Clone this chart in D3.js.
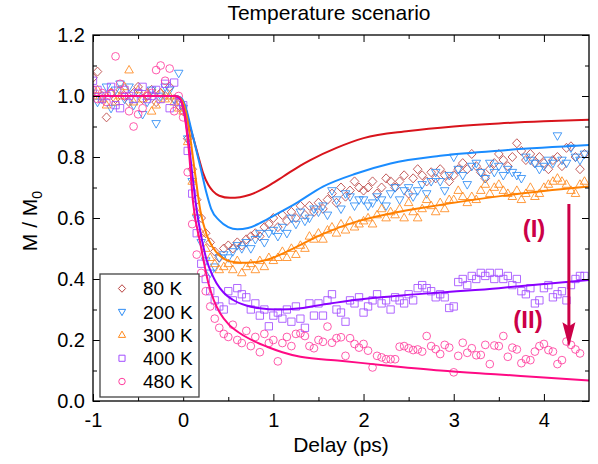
<!DOCTYPE html>
<html>
<head>
<meta charset="utf-8">
<script src="https://cdn.jsdelivr.net/npm/d3@7"></script>
<style>
body { margin: 0; background: #fff; }
svg { display: block; font-family: "Liberation Sans", Arial, sans-serif; }
</style>
</head>
<body>
<div class="chart"></div>
<script>

// delay grid (ps), shared by all temperatures
const delays = [
 -1.00,-0.95,-0.90,-0.85,-0.80,-0.75,-0.70,-0.65,-0.60,-0.55,
 -0.50,-0.45,-0.40,-0.35,-0.30,-0.25,-0.20,-0.15,-0.10,-0.05,
  0.00, 0.05, 0.10, 0.15, 0.20, 0.25, 0.30, 0.35, 0.40, 0.45,
  0.50, 0.55, 0.60, 0.65, 0.70, 0.75, 0.80, 0.85, 0.90, 0.95,
  1.00, 1.05, 1.10, 1.15, 1.20, 1.25, 1.30, 1.35, 1.40, 1.45,
  1.50, 1.55, 1.60, 1.65, 1.70, 1.75, 1.80, 1.85, 1.90, 1.95,
  2.00, 2.05, 2.10, 2.15, 2.20, 2.25, 2.30, 2.35, 2.40, 2.45,
  2.50, 2.55, 2.60, 2.65, 2.70, 2.75, 2.80, 2.85, 2.90, 2.95,
  3.00, 3.05, 3.10, 3.15, 3.20, 3.25, 3.30, 3.35, 3.40, 3.45,
  3.50, 3.55, 3.60, 3.65, 3.70, 3.75, 3.80, 3.85, 3.90, 3.95,
  4.00, 4.05, 4.10, 4.15, 4.20, 4.25, 4.30, 4.35, 4.40, 4.45
];

// measured M/M0
const m80 = [
 1.06,1.08,1.00,0.93,1.01,0.99,1.02,1.00,0.98,1.01,
 1.03,0.99,1.00,1.02,0.98,1.01,1.00,1.03,0.99,0.97,
 0.95,0.86,0.76,0.66,0.60,0.55,0.52,0.49,0.47,0.50,
 0.51,0.50,0.52,0.51,0.53,0.54,0.55,0.54,0.57,0.58,
 0.60,0.57,0.61,0.59,0.62,0.60,0.64,0.61,0.64,0.62,
 0.65,0.63,0.66,0.68,0.65,0.70,0.67,0.69,0.72,0.70,
 0.69,0.70,0.72,0.68,0.70,0.73,0.72,0.70,0.72,0.74,
 0.68,0.73,0.76,0.74,0.72,0.75,0.73,0.76,0.74,0.72,
 0.74,0.76,0.78,0.76,0.81,0.77,0.75,0.73,0.76,0.78,
 0.81,0.79,0.77,0.80,0.845,0.82,0.79,0.81,0.78,0.80,
 0.78,0.76,0.79,0.80,0.77,0.83,0.835,0.80,0.76,0.81
];
const m200 = [
 1.01,0.98,0.99,1.03,0.96,1.02,1.04,0.99,1.03,0.97,
 1.01,0.94,0.98,1.02,0.91,1.00,1.03,1.02,0.99,1.075,
 0.96,0.86,0.72,0.60,0.52,0.46,0.42,0.44,0.47,0.48,
 0.47,0.49,0.51,0.50,0.52,0.50,0.53,0.55,0.52,0.55,
 0.56,0.54,0.57,0.55,0.60,0.58,0.62,0.59,0.60,0.63,
 0.62,0.64,0.61,0.69,0.66,0.63,0.68,0.67,0.64,0.66,
 0.66,0.64,0.65,0.67,0.66,0.64,0.68,0.70,0.66,0.69,
 0.70,0.67,0.69,0.71,0.68,0.72,0.75,0.72,0.69,0.74,
 0.80,0.76,0.74,0.71,0.77,0.78,0.75,0.73,0.78,0.75,
 0.77,0.74,0.76,0.75,0.74,0.73,0.80,0.79,0.78,0.76,
 0.77,0.79,0.78,0.87,0.79,0.78,0.83,0.80,0.79,0.81
];
const m300 = [
 1.00,1.02,0.99,0.97,1.01,0.98,1.00,1.03,1.085,0.98,
 1.02,0.99,1.01,0.95,0.97,1.01,0.99,1.00,0.98,0.96,
 0.95,0.85,0.72,0.62,0.55,0.50,0.47,0.45,0.43,0.44,
 0.45,0.43,0.46,0.42,0.44,0.45,0.43,0.46,0.44,0.47,
 0.46,0.47,0.49,0.47,0.50,0.48,0.51,0.50,0.54,0.53,
 0.55,0.53,0.56,0.57,0.55,0.58,0.56,0.59,0.57,0.58,
 0.59,0.60,0.58,0.61,0.63,0.60,0.62,0.61,0.63,0.60,
 0.65,0.62,0.60,0.63,0.66,0.64,0.62,0.65,0.63,0.66,
 0.66,0.69,0.67,0.65,0.67,0.66,0.69,0.71,0.68,0.70,
 0.71,0.69,0.68,0.67,0.69,0.66,0.68,0.70,0.67,0.68,
 0.70,0.71,0.72,0.73,0.72,0.71,0.69,0.68,0.71,0.72
];
const m400 = [
 1.05,1.02,0.99,1.00,1.03,0.97,0.96,1.02,1.00,0.99,
 1.01,1.03,0.99,1.00,1.02,0.99,1.04,0.96,1.044,0.98,
 0.97,0.82,0.68,0.55,0.45,0.40,0.36,0.33,0.31,0.30,
 0.36,0.33,0.37,0.35,0.34,0.30,0.32,0.28,0.30,0.245,
 0.28,0.29,0.27,0.30,0.26,0.31,0.27,0.24,0.32,0.28,
 0.32,0.28,0.33,0.35,0.30,0.29,0.26,0.33,0.32,0.34,
 0.29,0.31,0.33,0.35,0.32,0.33,0.30,0.34,0.33,0.32,
 0.35,0.33,0.37,0.38,0.37,0.36,0.34,0.35,0.34,0.305,
 0.31,0.39,0.40,0.38,0.41,0.40,0.42,0.41,0.42,0.40,
 0.42,0.40,0.41,0.38,0.40,0.36,0.35,0.37,0.32,0.33,
 0.37,0.38,0.34,0.35,0.36,0.33,0.38,0.40,0.41,0.41
];
const m480 = [
 1.02,0.99,1.01,0.98,1.01,1.13,1.04,1.00,0.95,0.90,
 0.94,0.96,1.00,1.01,1.085,1.10,1.05,1.09,0.95,1.00,
 0.93,0.75,0.58,0.48,0.42,0.36,0.31,0.27,0.24,0.22,
 0.21,0.25,0.20,0.19,0.23,0.18,0.21,0.16,0.22,0.19,
 0.20,0.13,0.19,0.21,0.18,0.22,0.222,0.213,0.18,0.173,
 0.20,0.194,0.244,0.191,0.206,0.209,0.148,0.206,0.187,0.175,
 0.187,0.165,0.11,0.148,0.143,0.137,0.137,0.137,0.178,0.18,
 0.173,0.167,0.169,0.162,0.213,0.18,0.17,0.154,0.184,0.175,
 0.094,0.148,0.191,0.158,0.173,0.15,0.151,0.184,0.121,0.182,
 0.18,0.213,0.145,0.175,0.169,0.124,0.137,0.134,0.162,0.18,
 0.187,0.167,0.162,0.121,0.134,0.195,0.184,0.169,0.156,null
];

// model curves [delay, M/M0]
const fit80 = [[-1,1],[-0.1,1],[-0.05,0.998],[0,0.978],[0.04,0.943],[0.075,0.9],[0.11,0.865],[0.17,0.8],[0.22,0.748],[0.28,0.708],[0.33,0.688],[0.4,0.673],[0.52,0.666],[0.63,0.668],[0.74,0.676],[0.93,0.703],[1.11,0.736],[1.3,0.772],[1.41,0.79],[1.7,0.83],[2,0.862],[2.5,0.885],[3,0.9],[3.5,0.91],[4,0.917],[4.5,0.922]];
const fit200 = [[-1,1],[-0.1,1],[-0.03,0.995],[0.02,0.97],[0.09,0.89],[0.19,0.768],[0.26,0.68],[0.31,0.63],[0.4,0.592],[0.5,0.57],[0.6,0.563],[0.72,0.567],[0.85,0.583],[1,0.607],[1.25,0.648],[1.55,0.703],[1.92,0.746],[2.3,0.779],[2.85,0.804],[3.6,0.823],[4.5,0.839]];
const fit300 = [[-1,1],[-0.1,1],[-0.04,0.995],[0.02,0.96],[0.08,0.86],[0.13,0.75],[0.19,0.625],[0.26,0.545],[0.33,0.503],[0.4,0.478],[0.48,0.462],[0.58,0.455],[0.7,0.453],[0.82,0.456],[0.93,0.463],[1.2,0.497],[1.55,0.548],[1.92,0.588],[2.3,0.615],[2.85,0.643],[3.6,0.675],[4.5,0.703]];
const fit400 = [[-1,1],[-0.1,1],[-0.05,0.995],[0.01,0.95],[0.06,0.85],[0.11,0.72],[0.15,0.626],[0.2,0.54],[0.26,0.462],[0.32,0.415],[0.37,0.386],[0.45,0.355],[0.55,0.332],[0.7,0.313],[0.85,0.304],[1.05,0.3],[1.3,0.304],[1.55,0.316],[1.92,0.332],[2.3,0.343],[2.85,0.356],[3.5,0.37],[4,0.384],[4.5,0.397]];
const fit480 = [[-1,1],[-0.1,1],[-0.05,0.997],[0,0.96],[0.06,0.83],[0.11,0.65],[0.19,0.517],[0.28,0.386],[0.34,0.33],[0.41,0.288],[0.5,0.253],[0.63,0.222],[0.78,0.197],[0.93,0.178],[1.1,0.16],[1.3,0.145],[1.74,0.132],[2.3,0.115],[2.85,0.1],[3.5,0.087],[4,0.077],[4.5,0.067]];

const labels = ["80 K", "200 K", "300 K", "400 K", "480 K"];
const xTicks = [-1, 0, 1, 2, 3, 4];
const xMinor = [-0.5, 0.5, 1.5, 2.5, 3.5];
const yTicks = [0, 0.2, 0.4, 0.6, 0.8, 1.0, 1.2];
const yMinor = [0.1, 0.3, 0.5, 0.7, 0.9, 1.1];

const shapes = ["diamond", "down", "up", "square", "circle"];
const markerColors = ["#b8413f", "#2d8cf5", "#ff8a1e", "#a24dff", "#ff3d9e"];
const lineColors = ["#d8141c", "#1a8cff", "#ff8000", "#8a00ff", "#ff0a84"];

let width = 598,
    height = 464;
let pLeft = 93, pRight = 589, pTop = 35, pBottom = 401;
let font = '"Liberation Sans", Arial, sans-serif';

let x = d3.scaleLinear().domain([-1, 4.5]).range([pLeft, pRight]);
let y = d3.scaleLinear().domain([0, 1.2]).range([pBottom, pTop]);

let series = labels.map((label, i) => ({
    label: label,
    values: [m80, m200, m300, m400, m480][i],
    fit: [fit80, fit200, fit300, fit400, fit480][i],
    shape: shapes[i],
    mc: markerColors[i],
    lc: lineColors[i]
}));

function markerPath(shape, s) {
    let h = s * 1.75;
    if (shape === "diamond") return `M0,${-s*1.05}L${s},0L0,${s*1.05}L${-s},0Z`;
    if (shape === "down") return `M${-s},${-h*0.38}L${s},${-h*0.38}L0,${h*0.62}Z`;
    if (shape === "up") return `M${-s},${h*0.38}L${s},${h*0.38}L0,${-h*0.62}Z`;
    if (shape === "square") { let a = s * 0.85; return `M${-a},${-a}H${a}V${a}H${-a}Z`; }
    let r = s * 0.9;
    return `M${r},0A${r},${r} 0 1,1 ${-r},0A${r},${r} 0 1,1 ${r},0Z`;
}

let plot = d3.select('.chart').append('svg')
    .attr('width', width)
    .attr('height', height);

plot.append('clipPath').attr('id', 'clip')
    .append('rect')
    .attr('x', pLeft).attr('y', pTop)
    .attr('width', pRight - pLeft).attr('height', pBottom - pTop);

let dataLayer = plot.append('g').attr('clip-path', 'url(#clip)');

series.forEach(s => {
    dataLayer.append('g')
        .selectAll('path')
        .data(delays.map((t, j) => [t, s.values[j]]).filter(d => d[1] != null))
        .join('path')
        .attr('transform', d => `translate(${x(d[0])},${y(d[1])})`)
        .attr('d', markerPath(s.shape, 4.3))
        .attr('fill', 'none')
        .attr('stroke', s.mc)
        .attr('stroke-opacity', 0.85)
        .attr('stroke-width', 1);
});

let line = d3.line()
    .x(d => x(d[0]))
    .y(d => y(d[1]))
    .curve(d3.curveMonotoneX);

series.forEach(s => {
    dataLayer.append('path')
        .datum(s.fit)
        .attr('d', line)
        .attr('fill', 'none')
        .attr('stroke', s.lc)
        .attr('stroke-width', 2);
});

// axes, ticks pointing inward on all four sides
function styleAxis(g) {
    g.attr('font-size', 20).attr('font-family', font);
    g.select('.domain').remove();
    g.selectAll('.tick line').attr('stroke', '#000').attr('stroke-width', 1);
}

plot.append('g').attr('transform', `translate(0,${pBottom})`)
    .call(d3.axisBottom(x).tickValues(xTicks).tickSize(-7).tickSizeOuter(0).tickPadding(12).tickFormat(d => d))
    .call(styleAxis);
plot.append('g').attr('transform', `translate(0,${pBottom})`)
    .call(d3.axisBottom(x).tickValues(xMinor).tickSize(-4).tickFormat(''))
    .call(styleAxis);
plot.append('g').attr('transform', `translate(0,${pTop})`)
    .call(d3.axisTop(x).tickValues(xTicks).tickSize(-7).tickFormat(''))
    .call(styleAxis);
plot.append('g').attr('transform', `translate(0,${pTop})`)
    .call(d3.axisTop(x).tickValues(xMinor).tickSize(-4).tickFormat(''))
    .call(styleAxis);

plot.append('g').attr('transform', `translate(${pLeft},0)`)
    .call(d3.axisLeft(y).tickValues(yTicks).tickSize(-7).tickSizeOuter(0).tickPadding(8).tickFormat(d3.format('.1f')))
    .call(styleAxis);
plot.append('g').attr('transform', `translate(${pLeft},0)`)
    .call(d3.axisLeft(y).tickValues(yMinor).tickSize(-4).tickFormat(''))
    .call(styleAxis);
plot.append('g').attr('transform', `translate(${pRight},0)`)
    .call(d3.axisRight(y).tickValues(yTicks).tickSize(-7).tickFormat(''))
    .call(styleAxis);
plot.append('g').attr('transform', `translate(${pRight},0)`)
    .call(d3.axisRight(y).tickValues(yMinor).tickSize(-4).tickFormat(''))
    .call(styleAxis);

plot.append('rect')
    .attr('x', pLeft).attr('y', pTop)
    .attr('width', pRight - pLeft).attr('height', pBottom - pTop)
    .attr('fill', 'none')
    .attr('stroke', '#000')
    .attr('stroke-width', 1.3);

// titles
plot.append('text')
    .attr('x', 329).attr('y', 20)
    .attr('text-anchor', 'middle')
    .attr('font-size', 21)
    .text('Temperature scenario');

plot.append('text')
    .attr('x', (pLeft + pRight) / 2).attr('y', 452)
    .attr('text-anchor', 'middle')
    .attr('font-size', 21)
    .text('Delay (ps)');

let ylab = plot.append('text')
    .attr('transform', 'translate(37,221) rotate(-90)')
    .attr('text-anchor', 'middle')
    .attr('font-size', 21);
ylab.append('tspan').text('M / M');
ylab.append('tspan').attr('font-size', 14).attr('dy', 5).text('0');

// annotations
let accent = '#cc0047';
plot.append('text')
    .attr('x', 534).attr('y', 237)
    .attr('text-anchor', 'middle')
    .attr('font-size', 24).attr('font-weight', 'bold')
    .attr('fill', accent)
    .text('(I)');
plot.append('text')
    .attr('x', 528).attr('y', 328)
    .attr('text-anchor', 'middle')
    .attr('font-size', 24).attr('font-weight', 'bold')
    .attr('fill', accent)
    .text('(II)');

let ax = x(4.277);
plot.append('line')
    .attr('x1', ax).attr('x2', ax)
    .attr('y1', y(0.646)).attr('y2', y(0.24))
    .attr('stroke', accent)
    .attr('stroke-width', 3);
plot.append('path')
    .attr('d', `M${ax - 6.5},${y(0.258)}L${ax},${y(0.177)}L${ax + 6.5},${y(0.258)}L${ax},${y(0.245)}Z`)
    .attr('fill', accent);

// legend
let legend = plot.append('g');
legend.append('rect')
    .attr('x', 100).attr('y', 274)
    .attr('width', 99).attr('height', 123)
    .attr('fill', '#fff')
    .attr('stroke', '#444')
    .attr('stroke-width', 1.3);

let row = legend.selectAll('g.row')
    .data(series)
    .join('g')
    .attr('class', 'row')
    .attr('transform', (d, i) => `translate(0,${288.5 + i * 23.25})`);

row.append('path')
    .attr('transform', 'translate(122,0)')
    .attr('d', d => markerPath(d.shape, 3.6))
    .attr('fill', 'none')
    .attr('stroke', d => d.mc)
    .attr('stroke-width', 1);

row.append('text')
    .attr('x', 143)
    .attr('dy', '0.36em')
    .attr('font-size', 19)
    .text(d => d.label);

</script>
</body>
</html>
